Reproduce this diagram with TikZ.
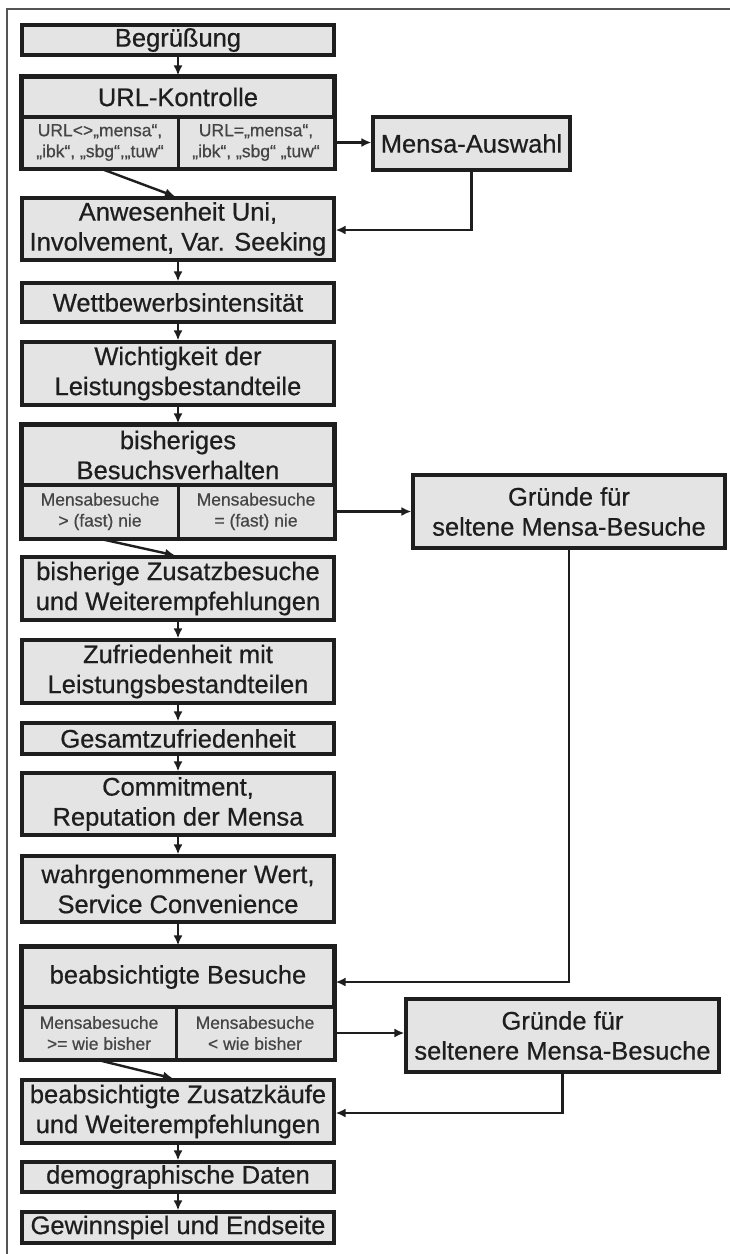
\documentclass[tikz,border=0pt]{standalone}
\usepackage{fontspec}
\setmainfont[FakeBold=0.6]{Liberation Sans}
\usetikzlibrary{arrows.meta}
\definecolor{boxfill}{HTML}{E4E4E4}
\definecolor{ink}{HTML}{1E1E1E}
\definecolor{softink}{HTML}{454545}
\definecolor{framegray}{HTML}{555555}
\begin{document}
\begin{tikzpicture}[x=1pt,y=-1pt,
  box/.style={draw=ink, line width=3.2pt, fill=boxfill, inner sep=0pt,
    align=center, text=ink, font=\fontsize{25.5}{30}\selectfont},
  mainbox/.style={box, minimum width=312pt},
  cell/.style={draw=ink, line width=3pt, fill=boxfill, inner sep=0pt,
    align=center, text=softink, font=\fontsize{17.5}{21}\selectfont},
  flow/.style={draw=ink, line width=2.4pt, -{Latex[length=10pt,width=9pt]}},
  frameline/.style={framegray, line width=2.2pt}]

\useasboundingbox (0,0) rectangle (730,1254);
\fill[white] (0,0) rectangle (730,1254);

% outer page frame (top and left edges)
\draw[frameline] (7,1254) -- (7,9) -- (730,9);

% main column
\node[mainbox, minimum height=30pt] (beg) at (178,40) {Begrüßung};

\node[mainbox, minimum height=40pt] (urlH) at (178,97) {URL-Kontrolle};
\node[cell, minimum width=156pt, minimum height=51pt] (urlL) at (100,142.5)
  {URL<>„mensa“,\\„ibk“, „sbg“,„tuw“};
\node[cell, minimum width=156pt, minimum height=51pt] (urlR) at (256,142.5)
  {URL=„mensa“,\\„ibk“, „sbg“ „tuw“};
\draw[ink, line width=3.2pt] (urlH.north west) rectangle (urlR.south east);

\node[mainbox, minimum height=62pt] (anw) at (178,229)
  {Anwesenheit Uni,\\Involvement, Var. Seeking};
\node[mainbox, minimum height=39pt] (wett) at (178,302.5) {Wettbewerbsintensität};
\node[mainbox, minimum height=63pt] (wicht) at (178,373.5)
  {Wichtigkeit der\\Leistungsbestandteile};

\node[mainbox, minimum height=60pt] (bishH) at (178,455)
  {bisheriges\\Besuchsverhalten};
\node[cell, minimum width=156pt, minimum height=53pt] (bishL) at (100,511.5)
  {Mensabesuche\\> (fast) nie};
\node[cell, minimum width=156pt, minimum height=53pt] (bishR) at (256,511.5)
  {Mensabesuche\\= (fast) nie};
\draw[ink, line width=3.2pt] (bishH.north west) rectangle (bishR.south east);

\node[mainbox, minimum height=63pt] (zus) at (178,588.5)
  {bisherige Zusatzbesuche\\und Weiterempfehlungen};
\node[mainbox, minimum height=63pt] (zuf) at (178,671.5)
  {Zufriedenheit mit\\Leistungsbestandteilen};
\node[mainbox, minimum height=31pt] (ges) at (178,738.5) {Gesamtzufriedenheit};
\node[mainbox, minimum height=62pt] (com) at (178,804)
  {Commitment,\\Reputation der Mensa};
\node[mainbox, minimum height=66pt] (wahr) at (178,889)
  {wahrgenommener Wert,\\Service Convenience};

\node[mainbox, minimum height=60pt] (beaH) at (178,977) {beabsichtigte Besuche};
\node[cell, minimum width=154pt, minimum height=52pt] (beaL) at (99,1033)
  {Mensabesuche\\>= wie bisher};
\node[cell, minimum width=158pt, minimum height=52pt] (beaR) at (255,1033)
  {Mensabesuche\\< wie bisher};
\draw[ink, line width=3.2pt] (beaH.north west) rectangle (beaR.south east);

\node[mainbox, minimum height=63pt] (kauf) at (178,1111.5)
  {beabsichtigte Zusatzkäufe\\und Weiterempfehlungen};
\node[mainbox, minimum height=30pt] (demo) at (178,1177) {demographische Daten};
\node[mainbox, minimum height=31pt] (gew) at (178,1227.5) {Gewinnspiel und Endseite};

% side branches
\node[box, minimum width=197pt, minimum height=53pt] (aus) at (471.5,143.5) {Mensa-Auswahl};
\node[box, minimum width=312pt, minimum height=73pt] (gr1) at (569,511.5)
  {Gründe für\\seltene Mensa-Besuche};
\node[box, minimum width=313pt, minimum height=73pt] (gr2) at (562.5,1035.5)
  {Gründe für\\seltenere Mensa-Besuche};

% straight flow down the main column
\draw[flow] (beg) -- (urlH);
\draw[flow] (anw) -- (wett);
\draw[flow] (wett) -- (wicht);
\draw[flow] (wicht) -- (bishH);
\draw[flow] (zus) -- (zuf);
\draw[flow] (zuf) -- (ges);
\draw[flow] (ges) -- (com);
\draw[flow] (com) -- (wahr);
\draw[flow] (wahr) -- (beaH);
\draw[flow] (kauf) -- (demo);
\draw[flow] (demo) -- (gew);

% branch decisions
\draw[flow] ([xshift=3pt]urlL.south) -- ([xshift=-3pt]anw.north);
\draw[flow] (urlR.east) -- (urlR.east -| aus.west);
\draw[flow] (aus.south) |- ([yshift=-1pt]anw.east);

\draw[flow] ([xshift=3pt]bishL.south) -- ([xshift=-3pt]zus.north);
\draw[flow] (bishR.east) -- (bishR.east -| gr1.west);
\draw[flow] (gr1.south) |- ([yshift=-5pt]beaH.east);

\draw[flow] ([xshift=1pt]beaL.south) -- ([xshift=-5pt]kauf.north);
\draw[flow] (beaR.east) -- (beaR.east -| gr2.west);
\draw[flow] (gr2.south) |- ([yshift=-1.5pt]kauf.east);
\end{tikzpicture}
\end{document}
